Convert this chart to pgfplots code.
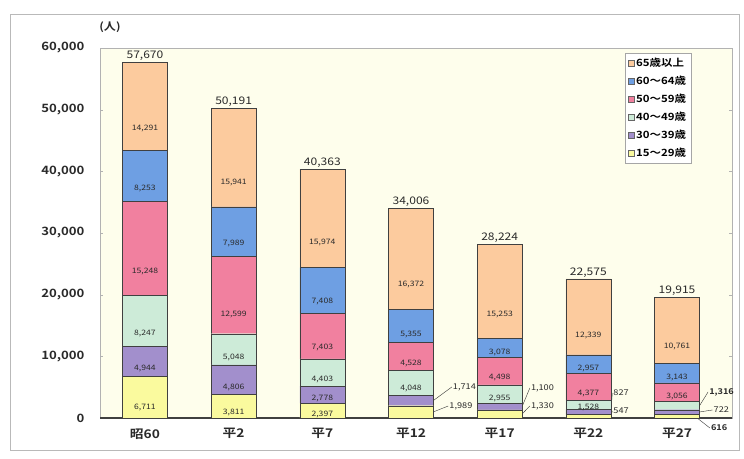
\documentclass[border=0pt]{standalone}
\usepackage{fontspec}
\setmainfont{Noto Sans CJK JP}[BoldFont={Noto Sans CJK JP Bold}, FakeStretch=1.15]
\usepackage{pgfplots}
\usepackage{pgfplotstable}
\pgfplotsset{compat=1.18}
\definecolor{c15}{HTML}{FAFA9E}
\definecolor{c30}{HTML}{A28FCC}
\definecolor{c40}{HTML}{CDEBD8}
\definecolor{c50}{HTML}{F1809F}
\definecolor{c60}{HTML}{6E9FE3}
\definecolor{c65}{HTML}{FCCB9E}
\definecolor{bgc}{HTML}{FEFEEC}
\definecolor{txt}{HTML}{2A2A2A}
\pgfplotstableread{
x  a15  a30  a40  a50   a60  a65   l15   l30   l40   l50    l60   l65    tot
0  6711 4944 8247 15248 8253 14291 6,711 4,944 8,247 15,248 8,253 14,291 57,670
1  3811 4806 5048 12599 7989 15941 3,811 4,806 5,048 12,599 7,989 15,941 50,191
2  2397 2778 4403 7403  7408 15974 2,397 2,778 4,403 7,403  7,408 15,974 40,363
3  1989 1714 4048 4528  5355 16372 {}    {}    4,048 4,528  5,355 16,372 34,006
4  1330 1100 2955 4498  3078 15253 {}    {}    2,955 4,498  3,078 15,253 28,224
5  547  827  1528 4377  2957 12339 {}    {}    1,528 4,377  2,957 12,339 22,575
6  616  722  1316 3056  3143 10761 {}    {}    {}    3,056  3,143 10,761 19,915
}\data
\pgfplotsset{
  seglab/.style={
    nodes near coords, point meta=explicit symbolic,
    visualization depends on={\thisrow{#1} \as \myv},
    every node near coord/.append style={anchor=center, text=txt,
      font=\fontsize{7.5}{8}\selectfont, yshift={-0.25*\myv*0.0061898}}
  },
  samebox/.style={
    at={(100bp,41bp)}, anchor=south west,
    scale only axis, width=632bp, height=370bp,
    xmin=-0.507, xmax=6.62, ymin=0, ymax=60000, clip=false}
}
\tikzset{olab/.style={anchor=west, inner sep=1bp, text=txt, font=\fontsize{8}{9}\selectfont}}
\begin{document}
\begin{tikzpicture}[x=1bp,y=1bp]
\useasboundingbox (0,0) rectangle (744,459);
\draw[gray!55, line width=0.8bp] (10,9) rectangle (739,445);
\begin{axis}[
  samebox,
  ybar stacked, bar width=45bp,
  axis background/.style={fill=bgc},
  axis line style={gray!60},
  xtick={0,...,6},
  xticklabels={昭60,平2,平7,平12,平17,平22,平27},
  xtick style={draw=none},
  ytick={0,10000,20000,30000,40000,50000,60000},
  ytick style={gray!60},
  major tick length=3bp,
  scaled y ticks=false,
  /pgf/number format/1000 sep={,},
  /pgf/number format/assume math mode=true,
  yticklabel style={font=\bfseries\fontsize{11.5}{12}\selectfont, text=txt, xshift=-12bp},
  xticklabel style={font=\bfseries\fontsize{12}{13}\selectfont, text=txt, yshift=-7bp},
  reverse legend,
  legend image code/.code={\draw[#1, draw=black!60] (0bp,-3bp) rectangle (6bp,3bp);},
  legend style={at={(0.83,0.986)}, anchor=north west, draw=gray!70, fill=white,
    font=\bfseries\fontsize{10}{11}\selectfont, row sep=4bp, inner sep=3bp,
    cells={anchor=west}},
]
\addplot[fill=c15, draw=black!75, seglab=a15] table[x=x, y=a15, meta=l15] {\data};
\addlegendentry{15～29歳}
\addplot[fill=c30, draw=black!75, seglab=a30] table[x=x, y=a30, meta=l30] {\data};
\addlegendentry{30～39歳}
\addplot[fill=c40, draw=black!75, seglab=a40] table[x=x, y=a40, meta=l40] {\data};
\addlegendentry{40～49歳}
\addplot[fill=c50, draw=black!75, seglab=a50] table[x=x, y=a50, meta=l50] {\data};
\addlegendentry{50～59歳}
\addplot[fill=c60, draw=black!75, seglab=a60] table[x=x, y=a60, meta=l60] {\data};
\addlegendentry{60～64歳}
\addplot[fill=c65, draw=black!75, seglab=a65] table[x=x, y=a65, meta=l65] {\data};
\addlegendentry{65歳以上}
\draw[black!75, line width=1.2bp] (rel axis cs:0,0) -- (rel axis cs:1,0);
\draw[black!80] (axis cs:3.254,2846) -- (axis cs:3.46,5027) node[olab] {1,714};
\draw[black!80] (axis cs:3.254,995) -- (axis cs:3.42,1946) node[olab] {1,989};
\draw[black!80] (axis cs:4.254,1880) -- (axis cs:4.34,4865) node[olab] {1,100};
\draw[black!80] (axis cs:4.254,665) -- (axis cs:4.34,1946) node[olab] {1,330};
\draw[black!80] (axis cs:5.254,961) -- (axis cs:5.27,4054) node[olab] {827};
\draw[black!80] (axis cs:5.254,274) -- (axis cs:5.27,1135) node[olab] {547};
\draw[black!80] (axis cs:6.254,1996) -- (axis cs:6.35,4216) node[olab, font=\bfseries\fontsize{8}{9}\selectfont] {1,316};
\draw[black!80] (axis cs:6.254,977) -- (axis cs:6.40,1297) node[olab] {722};
\draw[black!80] (axis cs:6.2,308) -- (axis cs:6.37,-1622) node[olab, font=\bfseries\fontsize{8}{9}\selectfont] {616};
\end{axis}
\begin{axis}[samebox, hide axis]
\addplot[only marks, mark=none, nodes near coords, point meta=explicit symbolic,
  every node near coord/.append style={anchor=south, text=txt, inner sep=1.5bp,
    font=\fontsize{10.5}{11}\selectfont}]
  table[x=x, y expr=\thisrow{a15}+\thisrow{a30}+\thisrow{a40}+\thisrow{a50}+\thisrow{a60}+\thisrow{a65}, meta=tot] {\data};
\end{axis}
\node[font=\bfseries\fontsize{10.5}{12}\selectfont, text=txt] at (110,432) {(人)};
\end{tikzpicture}
\end{document}
